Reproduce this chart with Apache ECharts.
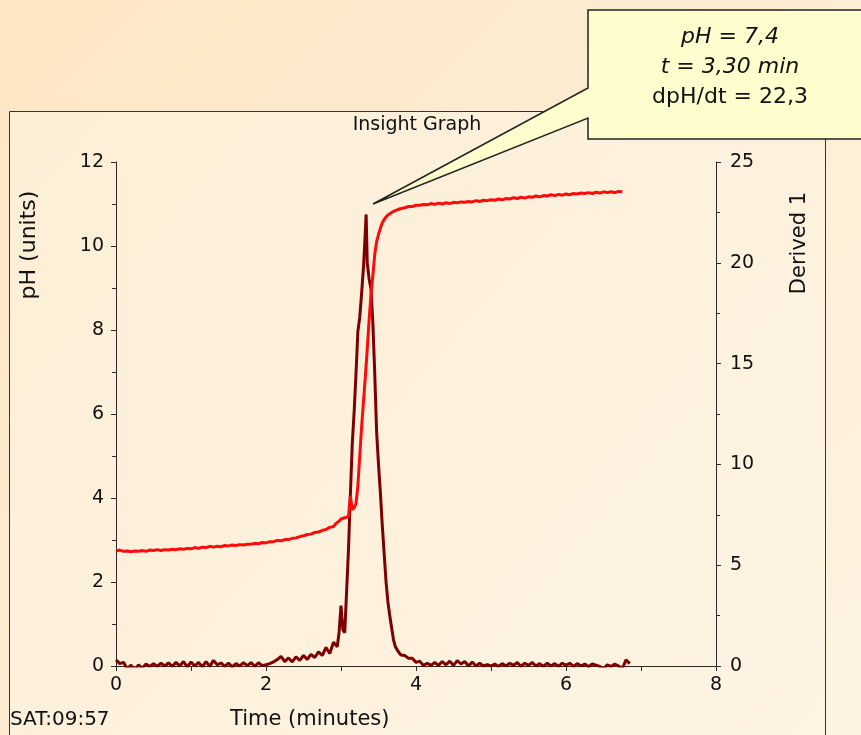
<!DOCTYPE html>
<html>
<head>
<meta charset="utf-8">
<script src="https://cdn.jsdelivr.net/npm/echarts@6/dist/echarts.min.js"></script>
<style>
html,body{margin:0;padding:0;width:861px;height:735px;overflow:hidden;
background:linear-gradient(135deg,#fde6c3 0%,#fdecd2 45%,#fef3e2 100%);}
#chart{width:861px;height:735px;}
</style>
</head>
<body>
<div id="chart"></div>
<script>
// Sample times (minutes)
const time = [
0,0.05,0.1,0.15,0.2,0.25,0.3,0.35,0.4,0.45,0.5,0.55,0.6,0.65,0.7,0.75,0.8,0.85,0.9,0.95,
1,1.05,1.1,1.15,1.2,1.25,1.3,1.35,1.4,1.45,1.5,1.55,1.6,1.65,1.7,1.75,1.8,1.85,1.9,1.95,
2,2.05,2.1,2.15,2.2,2.25,2.3,2.35,2.4,2.45,2.5,2.55,2.6,2.65,2.7,2.75,2.8,2.85,2.9,
2.925,2.95,2.975,3,3.025,3.05,3.075,3.1,3.125,3.15,3.175,3.2,3.225,3.25,3.275,3.3,3.325,3.335,
3.35,3.375,3.4,3.425,3.45,3.475,3.5,3.525,3.55,3.575,3.6,3.625,3.65,3.675,3.7,3.725,3.75,3.775,3.8,
3.85,3.9,3.95,4,4.05,4.1,4.15,4.2,4.25,4.3,4.35,4.4,4.45,4.5,4.55,4.6,4.65,4.7,4.75,4.8,4.85,4.9,4.95,
5,5.05,5.1,5.15,5.2,5.25,5.3,5.35,5.4,5.45,5.5,5.55,5.6,5.65,5.7,5.75,5.8,5.85,5.9,5.95,
6,6.05,6.1,6.15,6.2,6.25,6.3,6.35,6.4,6.45,6.5,6.55,6.6,6.65,6.7,6.75,6.8,6.85
];
// pH (units), left axis
const ph = [
2.74,2.76,2.73,2.74,2.72,2.74,2.73,2.75,2.73,2.76,2.75,2.77,2.75,2.77,2.76,2.78,2.77,2.79,2.78,2.80,
2.79,2.82,2.80,2.83,2.82,2.85,2.83,2.85,2.84,2.87,2.86,2.88,2.87,2.89,2.88,2.90,2.90,2.92,2.91,2.94,
2.93,2.96,2.96,2.99,2.98,3.01,3.01,3.04,3.05,3.08,3.10,3.13,3.14,3.18,3.19,3.23,3.25,3.30,3.32,
3.38,3.42,3.45,3.50,3.52,3.53,3.54,3.56,4.05,3.72,3.77,3.86,4.3,5.0,5.7,6.3,6.9,7.15,
7.55,8.25,8.85,9.3,9.8,10.1,10.28,10.42,10.55,10.63,10.69,10.74,10.77,10.8,10.82,10.84,10.86,10.88,10.89,
10.91,10.94,10.94,10.97,10.97,10.99,10.98,11.01,10.99,11.02,11.00,11.03,11.01,11.04,11.03,11.05,11.04,11.06,11.05,11.08,11.06,11.09,11.08,
11.10,11.09,11.12,11.10,11.13,11.12,11.15,11.13,11.16,11.14,11.17,11.16,11.19,11.17,11.20,11.19,11.22,11.20,11.23,11.21,
11.24,11.22,11.25,11.24,11.26,11.25,11.27,11.25,11.28,11.26,11.29,11.27,11.29,11.27,11.30,11.29,null,null
];
// Derived 1 (dpH/dt), right axis
const derived = [
0.3,0.12,0.18,-0.14,0.04,-0.22,0.06,-0.1,0.1,-0.02,0.12,-0.02,0.14,0.0,0.15,-0.02,0.18,0.0,0.22,-0.04,
0.2,0.0,0.18,-0.04,0.22,-0.02,0.28,0.06,0.15,-0.02,0.14,-0.04,0.12,0.0,0.17,0.02,0.17,-0.02,0.16,0.02,
0.06,0.12,0.2,0.32,0.48,0.22,0.4,0.2,0.45,0.28,0.52,0.33,0.58,0.42,0.7,0.52,0.92,0.62,1.18,
1.1,0.95,1.7,3.0,1.8,1.65,1.7,5.8,8.5,11.0,12.6,14.5,16.6,17.3,18.5,19.8,21.6,22.4,
20.0,19.2,18.7,17.0,14.5,11.6,10.0,8.6,7.0,5.6,4.2,3.2,2.5,1.9,1.3,0.95,0.8,0.65,0.55,
0.52,0.38,0.38,0.18,0.24,0.03,0.14,0.03,0.17,0.03,0.22,0.06,0.24,0.03,0.27,0.1,0.22,0.0,0.2,0.0,0.14,0.0,0.07,
0.0,0.1,-0.02,0.12,0.0,0.14,0.03,0.17,-0.02,0.14,0.03,0.17,0.0,0.12,-0.02,0.14,0.0,0.12,-0.02,0.14,
0.03,0.14,-0.02,0.12,0.0,0.1,-0.04,0.1,0.04,-0.02,-0.17,0.06,-0.02,0.1,0.0,-0.14,0.3,0.12
];
const titleText = 'Insight Graph';
const leftName = 'pH (units)';
const rightName = 'Derived 1';
const xName = 'Time (minutes)';
const stamp = 'SAT:09:57';
const callout = ['pH = 7,4', 't = 3,30 min', 'dpH/dt = 22,3'];

const F = 'DejaVu Sans';
const phPairs = time.map((t,i)=>[t, ph[i]]);
const dPairs = time.map((t,i)=>[t, derived[i]]);

const chart = echarts.init(document.getElementById('chart'), null, {renderer:'canvas'});
const axisCol = '#2a2a2a';
chart.setOption({
  animation:false,
  backgroundColor:'transparent',
  grid:{left:116, right:145, top:162, bottom:69, containLabel:false},
  xAxis:{type:'value', min:0, max:8, interval:2,
    axisLine:{show:true, lineStyle:{color:axisCol, width:1}},
    axisTick:{show:true, length:5, lineStyle:{color:axisCol}},
    minorTick:{show:true, splitNumber:2, length:5, lineStyle:{color:axisCol}},
    splitLine:{show:false},
    axisLabel:{color:'#111', fontFamily:F, fontSize:19, margin:10}},
  yAxis:[
    {type:'value', min:0, max:12, interval:2, position:'left',
      axisLine:{show:true, lineStyle:{color:axisCol}},
      axisTick:{show:true, length:5, lineStyle:{color:axisCol}},
      minorTick:{show:true, splitNumber:2, length:4, lineStyle:{color:axisCol}},
      splitLine:{show:false},
      axisLabel:{color:'#111', fontFamily:F, fontSize:19, margin:12}},
    {type:'value', min:0, max:25, interval:5, position:'right',
      axisLine:{show:true, lineStyle:{color:axisCol}},
      axisTick:{show:true, length:5, lineStyle:{color:axisCol}},
      minorTick:{show:true, splitNumber:2, length:4, lineStyle:{color:axisCol}},
      splitLine:{show:false},
      axisLabel:{color:'#111', fontFamily:F, fontSize:19, margin:14}}
  ],
  series:[
    {type:'line', name:rightName, yAxisIndex:1, data:dPairs, showSymbol:false, symbol:'none',
      lineStyle:{color:'#7d0000', width:3}, z:2},
    {type:'line', name:leftName, yAxisIndex:0, data:phPairs, showSymbol:false, symbol:'none',
      lineStyle:{color:'#ff0a0a', width:3}, z:3, connectNulls:false}
  ],
  graphic:[
    {type:'rect', z:-10, shape:{x:9.5, y:111.5, width:816, height:700},
      style:{fill:{type:'linear',x:0,y:0,x2:1,y2:1,colorStops:[{offset:0,color:'#fdeed6'},{offset:1,color:'#fef4e4'}]},
        stroke:'#333', lineWidth:1}},
    {type:'text', z:5, x:417, y:125, style:{text:titleText, font:'19px '+F, fill:'#111', textAlign:'center', textVerticalAlign:'middle'}},
    {type:'text', z:5, x:29, y:245, rotation:Math.PI/2, style:{text:leftName, font:'22px '+F, fill:'#111', textAlign:'center', textVerticalAlign:'middle'}},
    {type:'text', z:5, x:800, y:243, rotation:Math.PI/2, style:{text:rightName, font:'21px '+F, fill:'#111', textAlign:'center', textVerticalAlign:'middle'}},
    {type:'text', z:5, x:10, y:720, style:{text:stamp, font:'20px '+F, fill:'#111', textAlign:'left', textVerticalAlign:'middle'}},
    {type:'text', z:5, x:230, y:720, style:{text:xName, font:'21px '+F, fill:'#111', textAlign:'left', textVerticalAlign:'middle'}},
    {type:'polygon', z:100, shape:{points:[[588,10],[880,10],[880,139],[588,139],[588,118],[373,204],[588,88]]},
      style:{fill:'#fefdcd', stroke:'#222', lineWidth:1.5}},
    {type:'text', z:101, x:730, y:37, style:{text:callout[0], font:'italic 22px '+F, fill:'#111', textAlign:'center', textVerticalAlign:'middle'}},
    {type:'text', z:101, x:730, y:67, style:{text:callout[1], font:'italic 22px '+F, fill:'#111', textAlign:'center', textVerticalAlign:'middle'}},
    {type:'text', z:101, x:730, y:97, style:{text:callout[2], font:'22px '+F, fill:'#111', textAlign:'center', textVerticalAlign:'middle'}}
  ]
});
</script>
</body>
</html>
